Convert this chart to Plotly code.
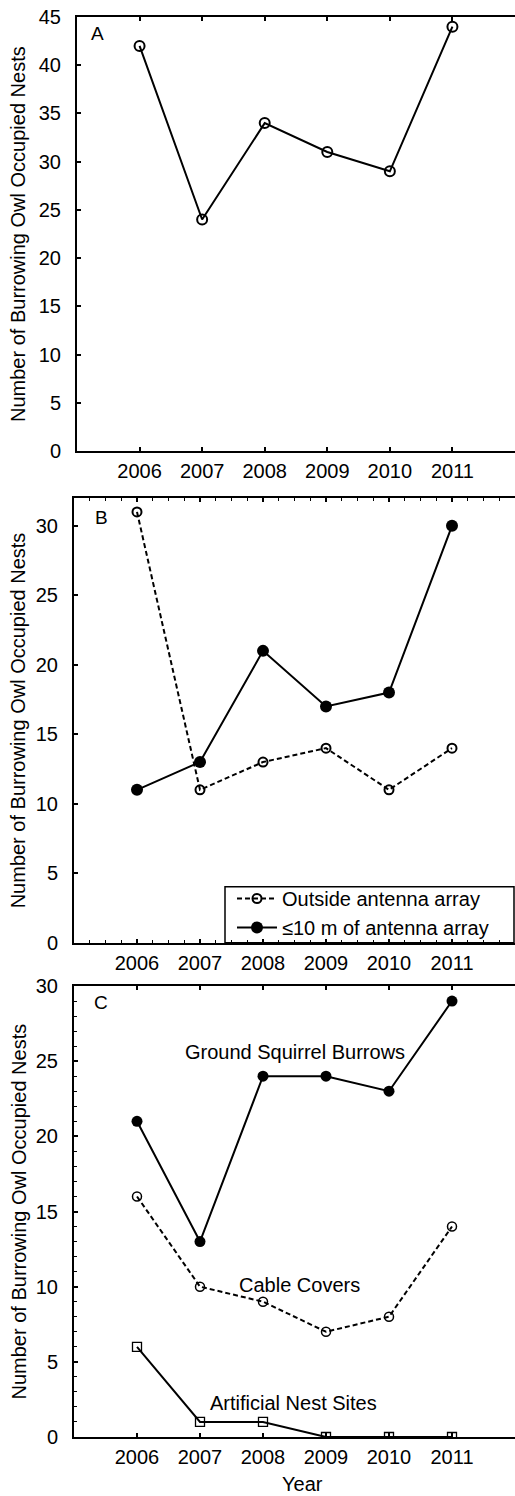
import plotly.graph_objects as go

# ---------------- data ----------------
years = [2006, 2007, 2008, 2009, 2010, 2011]
year_labels = ["2006", "2007", "2008", "2009", "2010", "2011"]

# Panel A: total occupied nests
total_nests = [42, 24, 34, 31, 29, 44]

# Panel B: distance to antenna array
outside_array = [31, 11, 13, 14, 11, 14]
within_10m = [11, 13, 21, 17, 18, 30]

# Panel C: nest type
ground_squirrel = [21, 13, 24, 24, 23, 29]
cable_covers = [16, 10, 9, 7, 8, 14]
artificial_sites = [6, 1, 1, 0, 0, 0]

legend_names = ["Outside antenna array", "\u226410 m of antenna array"]
panel_letters = ["A", "B", "C"]
series_labels_c = ["Ground Squirrel Burrows", "Cable Covers", "Artificial Nest Sites"]
y_title = "Number of Burrowing Owl Occupied Nests"
x_title = "Year"

# ---------------- layout helpers ----------------
W, H = 515, 1496
FONT = "Arial, 'Liberation Sans', sans-serif"


def px_x(p):
    return p / W


def px_y(p):
    return 1 - p / H


fig = go.Figure()

black = "black"
LW = 2
DASH = "5px,3px"

# Panel A
fig.add_trace(go.Scatter(
    x=years, y=total_nests, mode="lines+markers",
    line=dict(color=black, width=LW),
    marker=dict(symbol="circle-open", size=10, color=black, line=dict(width=2)),
    xaxis="x", yaxis="y", showlegend=False,
))

# Panel B
fig.add_trace(go.Scatter(
    x=years, y=outside_array, mode="lines+markers", name=legend_names[0],
    line=dict(color=black, width=LW, dash=DASH),
    marker=dict(symbol="circle-open", size=9, color=black, line=dict(width=2)),
    xaxis="x2", yaxis="y2", showlegend=True,
))
fig.add_trace(go.Scatter(
    x=years, y=within_10m, mode="lines+markers", name=legend_names[1],
    line=dict(color=black, width=LW),
    marker=dict(symbol="circle", size=12, color=black),
    xaxis="x2", yaxis="y2", showlegend=True,
))

# Panel C
fig.add_trace(go.Scatter(
    x=years, y=ground_squirrel, mode="lines+markers",
    line=dict(color=black, width=LW),
    marker=dict(symbol="circle", size=11, color=black),
    xaxis="x3", yaxis="y3", showlegend=False,
))
fig.add_trace(go.Scatter(
    x=years, y=cable_covers, mode="lines+markers",
    line=dict(color=black, width=LW, dash=DASH),
    marker=dict(symbol="circle-open", size=9, color=black, line=dict(width=1.5)),
    xaxis="x3", yaxis="y3", showlegend=False,
))
fig.add_trace(go.Scatter(
    x=years, y=artificial_sites, mode="lines+markers",
    line=dict(color=black, width=LW),
    marker=dict(symbol="square-open", size=9, color=black, line=dict(width=1.3)),
    xaxis="x3", yaxis="y3", showlegend=False,
))

tickfont = dict(family=FONT, size=20, color=black)


def xaxis(domain_left, anchor, minor=False):
    d = dict(
        domain=[px_x(domain_left), 1.0], anchor=anchor, automargin=False,
        range=[2005, 2012], tickmode="array", tickvals=years, ticktext=year_labels,
        showline=True, linecolor=black, linewidth=LW, mirror="allticks",
        ticks="inside", ticklen=4, tickwidth=1.5, tickcolor=black,
        tickfont=tickfont, showgrid=False, zeroline=False,
        ticklabelstandoff=1,
    )
    if minor:
        d["minor"] = dict(dtick=0.25, tick0=2005, ticks="inside", ticklen=3,
                          tickwidth=1, tickcolor=black, showgrid=False)
    return d


def yaxis(top, bottom, anchor, rng, dtick, minor=False):
    d = dict(
        domain=[px_y(bottom), px_y(top)], anchor=anchor, automargin=False,
        range=rng, dtick=dtick, tick0=0,
        showline=True, linecolor=black, linewidth=LW, mirror=False,
        ticks="inside", ticklen=4, tickwidth=1.5, tickcolor=black,
        tickfont=tickfont, showgrid=False, zeroline=False,
        ticklabelstandoff=10,
    )
    if minor:
        d["minor"] = dict(dtick=1, ticks="inside", ticklen=3, tickwidth=1,
                          tickcolor=black, showgrid=False)
    return d


A_top, A_bot = 17, 451
B_top, B_bot = 498, 942.7
C_top, C_bot = 986, 1437

annotations = []
# y-axis titles
for top, bot in [(A_top, A_bot), (B_top, B_bot), (C_top, C_bot)]:
    annotations.append(dict(
        text=y_title, xref="paper", yref="paper",
        x=px_x(18), y=px_y((top + bot) / 2), xanchor="center", yanchor="middle",
        textangle=-90, showarrow=False, font=dict(family=FONT, size=20, color=black),
    ))
# panel letters
for letter, (lx, ly) in zip(panel_letters, [(97, 33), (101, 517), (101, 1002)]):
    annotations.append(dict(
        text=letter, xref="paper", yref="paper", x=px_x(lx), y=px_y(ly),
        xanchor="center", yanchor="middle", showarrow=False,
        font=dict(family=FONT, size=19, color=black),
    ))
# series labels in panel C
for label, (lx, ly) in zip(series_labels_c, [(2008.51, 25.6), (2008.58, 10.1), (2008.48, 2.25)]):
    annotations.append(dict(
        text=label, xref="x3", yref="y3", x=lx, y=ly,
        xanchor="center", yanchor="middle", showarrow=False,
        font=dict(family=FONT, size=20, color=black),
    ))
# x-axis title
annotations.append(dict(
    text=x_title, xref="paper", yref="paper", x=px_x(302), y=px_y(1484),
    xanchor="center", yanchor="middle", showarrow=False,
    font=dict(family=FONT, size=20, color=black),
))

fig.update_layout(
    width=W, height=H,
    margin=dict(l=0, r=0, t=0, b=0, autoexpand=False),
    paper_bgcolor="white", plot_bgcolor="white",
    font=dict(family=FONT, size=20, color=black),
    xaxis=xaxis(77, "y"),
    yaxis=yaxis(A_top, A_bot, "x", [0, 45], 5),
    xaxis2=xaxis(74, "y2", minor=True),
    yaxis2=yaxis(B_top, B_bot, "x2", [0, 32], 5),
    xaxis3=xaxis(74, "y3"),
    yaxis3=yaxis(C_top, C_bot, "x3", [0, 30], 5, minor=True),
    annotations=annotations,
    showlegend=True,
    legend=dict(
        x=px_x(232), y=px_y(879), xanchor="left", yanchor="top",
        bgcolor="rgba(0,0,0,0)", borderwidth=0,
        font=dict(family=FONT, size=20, color=black),
        itemwidth=40, tracegroupgap=0,
    ),
    shapes=[dict(
        type="rect", xref="paper", yref="paper",
        x0=px_x(225), x1=px_x(514), y0=px_y(942.7), y1=px_y(886.7),
        line=dict(color=black, width=1.5), fillcolor="rgba(0,0,0,0)",
    )],
)

fig.write_html(
    "out.html",
    config={"displayModeBar": False},
    post_script="document.body.style.margin='0';document.body.style.padding='0';"
                "document.documentElement.style.overflow='hidden';",
)
